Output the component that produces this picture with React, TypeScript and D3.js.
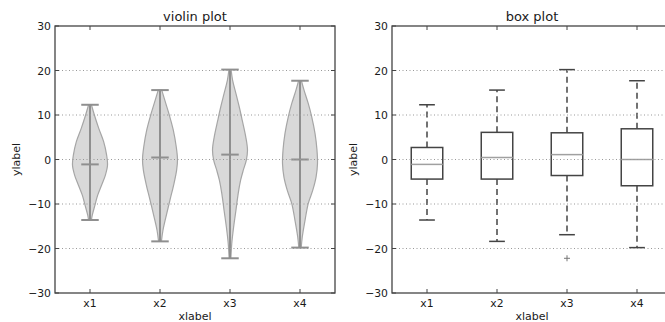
import * as d3 from "d3";

// ── Data ──────────────────────────────────────────────────────
const CATEGORIES = ["x1", "x2", "x3", "x4"];
const Y_TICKS = [30, 20, 10, 0, -10, -20, -30];
const GRID_TICKS = [20, 10, 0, -10, -20];

// violin: extremes + median
const V_MIN = [-13.6, -18.4, -22.2, -19.8];
const V_MAX = [12.3, 15.6, 20.2, 17.7];
const V_MED = [-1.1, 0.45, 1.1, 0.0];

// violin outlines: [value, relative half-width]
const PROFILE_X1 = [[12.3, 0.08], [10, 0.25], [7, 0.5], [4, 0.78], [1, 0.95], [-1.3, 1], [-3.5, 0.88], [-5.8, 0.66], [-8, 0.44], [-10.3, 0.28], [-12.5, 0.13], [-13.6, 0.08]];
const PROFILE_X2 = [[15.6, 0.1], [12.6, 0.33], [10, 0.53], [6.6, 0.76], [2.8, 0.93], [0, 1], [-2.4, 0.95], [-5.4, 0.8], [-9.1, 0.57], [-12.9, 0.34], [-15.9, 0.17], [-18.4, 0.08]];
const PROFILE_X3 = [[20.2, 0.06], [17.8, 0.15], [14.8, 0.34], [11.8, 0.53], [8.8, 0.7], [5.1, 0.9], [2.1, 1], [-0.2, 0.93], [-2.4, 0.76], [-4.6, 0.61], [-7.6, 0.47], [-11.4, 0.34], [-15.1, 0.21], [-18.9, 0.1], [-22.2, 0.05]];
const PROFILE_X4 = [[17.7, 0.08], [15.6, 0.23], [12.6, 0.47], [9.6, 0.67], [5.8, 0.86], [2.1, 0.97], [-0.9, 1], [-3.9, 0.92], [-6.9, 0.73], [-9.9, 0.47], [-13.6, 0.29], [-17.4, 0.13], [-19.8, 0.07]];
const PROFILES = [PROFILE_X1, PROFILE_X2, PROFILE_X3, PROFILE_X4];

// box plot stats
const B_Q1 = [-4.4, -4.4, -3.6, -5.9];
const B_Q3 = [2.7, 6.1, 6.0, 6.9];
const B_MED = [-1.1, 0.45, 1.1, 0.0];
const B_WLO = [-13.6, -18.4, -16.9, -19.8];
const B_WHI = [12.3, 15.6, 20.2, 17.7];
const B_OUTLIERS = [[], [], [-22.2], []];

// ── Layout ────────────────────────────────────────────────────
const W = 665;
const H = 322;
const TOP = 26;
const BOTTOM = 293;
const AX_W = 280;
const LEFT_AX = 55;
const RIGHT_AX = 392;
const FONT = "DejaVu Sans, sans-serif";
const TEXT = "#1a1a1a";

const y = d3.scaleLinear().domain([-30, 30]).range([BOTTOM, TOP]);

function Frame({ x0, title, children }: { x0: number; title: string; children?: any }) {
  const x = d3.scaleLinear().domain([0.5, 4.5]).range([x0, x0 + AX_W]);
  return (
    <g>
      {children(x)}
      {/* grid on top (classic style) */}
      {GRID_TICKS.map((t) => (
        <line key={t} x1={x0} x2={x0 + AX_W} y1={y(t)} y2={y(t)}
          stroke="#999" strokeWidth={1} strokeDasharray="1,2.5" />
      ))}
      {/* ticks */}
      {CATEGORIES.map((c, i) => (
        <g key={c}>
          <line x1={x(i + 1)} x2={x(i + 1)} y1={BOTTOM} y2={BOTTOM - 4} stroke="#444" />
          <line x1={x(i + 1)} x2={x(i + 1)} y1={TOP} y2={TOP + 4} stroke="#444" />
          <text x={x(i + 1)} y={BOTTOM + 14} textAnchor="middle" fontSize={10.8}
            fontFamily={FONT} fill={TEXT}>{c}</text>
        </g>
      ))}
      {Y_TICKS.map((t) => (
        <g key={t}>
          <line x1={x0} x2={x0 + 4} y1={y(t)} y2={y(t)} stroke="#444" />
          <line x1={x0 + AX_W} x2={x0 + AX_W - 4} y1={y(t)} y2={y(t)} stroke="#444" />
          <text x={x0 - 4} y={y(t) + 4} textAnchor="end" fontSize={10.8}
            fontFamily={FONT} fill={TEXT}>{t < 0 ? "\u2212" + Math.abs(t) : t}</text>
        </g>
      ))}
      <rect x={x0} y={TOP} width={AX_W} height={BOTTOM - TOP} fill="none"
        stroke="#444" strokeWidth={1.3} />
      <text x={x0 + AX_W / 2} y={TOP - 5} textAnchor="middle" fontSize={13}
        fontFamily={FONT} fill={TEXT}>{title}</text>
      <text x={x0 + AX_W / 2} y={BOTTOM + 27} textAnchor="middle" fontSize={11}
        fontFamily={FONT} fill={TEXT}>xlabel</text>
      <text transform={`translate(${x0 - 35},${(TOP + BOTTOM) / 2}) rotate(-90)`}
        textAnchor="middle" fontSize={11} fontFamily={FONT} fill={TEXT}>ylabel</text>
    </g>
  );
}

function Violins(x: d3.ScaleLinear<number, number>) {
  const half = (x(1.25) - x(1)); // max half-width (widths = 0.5)
  const cap = half / 2;
  return CATEGORIES.map((c, i) => {
    const cx = x(i + 1);
    const area = d3.area<number[]>()
      .y((d) => y(d[0]))
      .x0((d) => cx - d[1] * half)
      .x1((d) => cx + d[1] * half)
      .curve(d3.curveCatmullRom.alpha(0.5));
    return (
      <g key={c}>
        <path d={area(PROFILES[i]) ?? ""} fill="#d9d9d9" stroke="#a6a6a6" strokeWidth={1.2} />
        <line x1={cx} x2={cx} y1={y(V_MIN[i])} y2={y(V_MAX[i])} stroke="#8f8f8f" strokeWidth={2} />
        <line x1={cx - cap} x2={cx + cap} y1={y(V_MAX[i])} y2={y(V_MAX[i])} stroke="#8f8f8f" strokeWidth={2} />
        <line x1={cx - cap} x2={cx + cap} y1={y(V_MIN[i])} y2={y(V_MIN[i])} stroke="#8f8f8f" strokeWidth={2} />
        <line x1={cx - cap} x2={cx + cap} y1={y(V_MED[i])} y2={y(V_MED[i])} stroke="#8f8f8f" strokeWidth={2} />
      </g>
    );
  });
}

function Boxes(x: d3.ScaleLinear<number, number>) {
  const bw = (x(1.45) - x(1)) / 2; // box half-width (widths = 0.45)
  const cap = bw / 2;
  return CATEGORIES.map((c, i) => {
    const cx = x(i + 1);
    return (
      <g key={c}>
        <line x1={cx} x2={cx} y1={y(B_Q3[i])} y2={y(B_WHI[i])} stroke="#444" strokeWidth={1.5} strokeDasharray="6,4" />
        <line x1={cx} x2={cx} y1={y(B_Q1[i])} y2={y(B_WLO[i])} stroke="#444" strokeWidth={1.5} strokeDasharray="6,4" />
        <line x1={cx - cap} x2={cx + cap} y1={y(B_WHI[i])} y2={y(B_WHI[i])} stroke="#444" strokeWidth={1.5} />
        <line x1={cx - cap} x2={cx + cap} y1={y(B_WLO[i])} y2={y(B_WLO[i])} stroke="#444" strokeWidth={1.5} />
        <rect x={cx - bw} y={y(B_Q3[i])} width={2 * bw} height={y(B_Q1[i]) - y(B_Q3[i])}
          fill="white" stroke="#444" strokeWidth={1.5} />
        <line x1={cx - bw} x2={cx + bw} y1={y(B_MED[i])} y2={y(B_MED[i])} stroke="#a0a0a0" strokeWidth={1.5} />
        {B_OUTLIERS[i].map((o, j) => (
          <path key={j} d={`M${cx - 3},${y(o)}h6M${cx},${y(o) - 3}v6`} stroke="#777" strokeWidth={1} />
        ))}
      </g>
    );
  });
}

export default function App() {
  return (
    <svg width={W} height={H} style={{ position: "absolute", left: 0, top: 0, background: "white" }}>
      <rect width={W} height={H} fill="white" />
      <Frame x0={LEFT_AX} title="violin plot">{Violins}</Frame>
      <Frame x0={RIGHT_AX} title="box plot">{Boxes}</Frame>
    </svg>
  );
}
